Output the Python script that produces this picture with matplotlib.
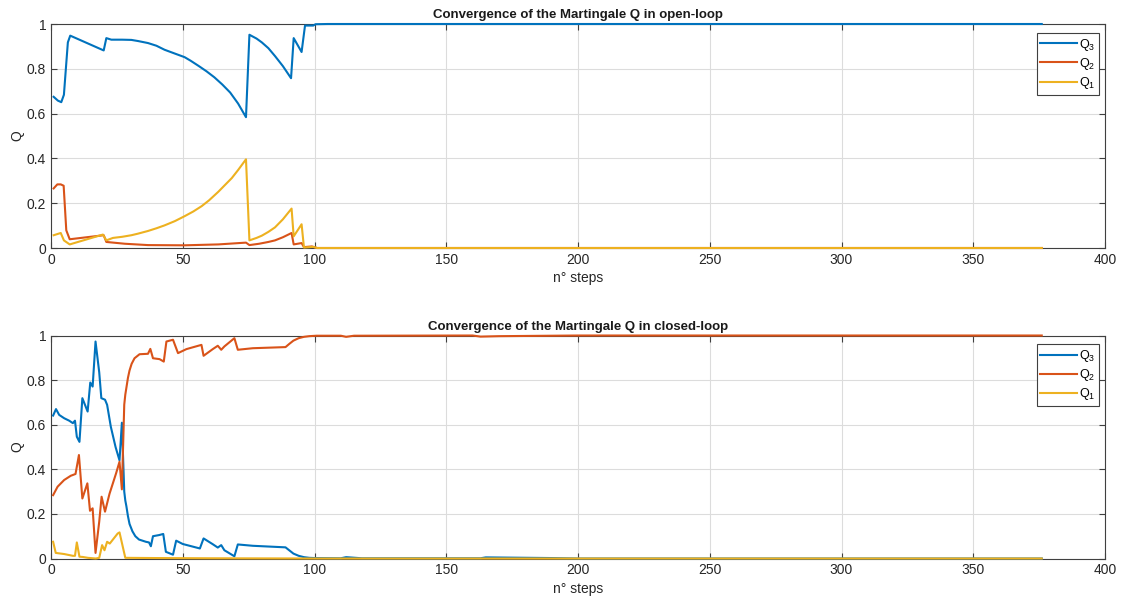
import matplotlib
matplotlib.use("Agg")
import matplotlib.pyplot as plt

plt.rcParams['font.family'] = ['Liberation Sans', 'DejaVu Sans']
plt.rcParams['mathtext.default'] = 'regular'

# ---------------- data: open-loop ----------------
ol_q3_x = [1, 2.6, 3.9, 4.9, 5.8, 6.4, 7.3, 20, 21, 22.9, 27, 30.5, 33, 36.8, 40, 43.1, 47,
           50.7, 53, 56, 59, 62, 65, 68, 71, 74, 75.3, 78, 80, 82.5, 85, 88, 91.1, 92.1, 95.1,
           96.4, 99.5, 100.4, 105, 376]
ol_q3_y = [0.675, 0.658, 0.651, 0.684, 0.825, 0.918, 0.948, 0.882, 0.937, 0.93, 0.93, 0.929,
           0.924, 0.915, 0.903, 0.885, 0.868, 0.852, 0.836, 0.813, 0.789, 0.762, 0.73, 0.694,
           0.645, 0.584, 0.952, 0.935, 0.918, 0.892, 0.857, 0.812, 0.758, 0.937, 0.875, 0.993,
           0.993, 0.999, 1.0, 1.0]

ol_q2_x = [1, 2.4, 3.7, 4.8, 5.8, 7.1, 20, 21, 28, 36.8, 50.7, 63.5, 74, 75.3, 79, 82.5, 85,
           88, 91.3, 92.1, 95.1, 96, 99, 101, 376]
ol_q2_y = [0.266, 0.284, 0.284, 0.278, 0.079, 0.039, 0.057, 0.027, 0.019, 0.013, 0.012, 0.016,
           0.024, 0.013, 0.019, 0.027, 0.034, 0.048, 0.067, 0.016, 0.022, 0.004, 0.007, 0.0, 0.0]

ol_q1_x = [1, 3.7, 4.9, 7.1, 19.7, 21, 23.5, 27, 30.5, 33, 36.8, 40, 43.1, 47, 50.7, 54, 57.2,
           60, 63.5, 66, 68.6, 71, 74, 75.3, 78, 80, 82.5, 85, 88, 91.3, 92.1, 95.1, 96, 99.5,
           101, 376]
ol_q1_y = [0.057, 0.067, 0.034, 0.016, 0.06, 0.034, 0.045, 0.05, 0.057, 0.064, 0.076, 0.088,
           0.101, 0.12, 0.142, 0.163, 0.187, 0.213, 0.251, 0.281, 0.312, 0.348, 0.396, 0.034,
           0.045, 0.055, 0.072, 0.092, 0.128, 0.176, 0.052, 0.106, 0.002, 0.005, 0.0, 0.0]

# ---------------- data: closed-loop ----------------
cl_q3_x = [0.8, 1.9, 3.1, 5, 6.9, 8.3, 9.1, 9.8, 10.8, 11.9, 13.9, 14.9, 15.8, 16.9, 18.3,
           19.1, 20.5, 21.3, 22.7, 24.5, 26, 26.9, 27.8, 28.2, 28.6, 29.2, 29.8, 30.9, 32,
           33.4, 36, 37.2, 37.9, 38.7, 41, 42.6, 43.6, 46.3, 47.5, 50, 56.5, 57.9, 61.4, 63.3,
           64.6, 65.8, 69.6, 70.9, 76.6, 89, 90.5, 92, 94, 96, 98, 100, 110, 112, 118, 163,
           165, 190, 200, 376]
cl_q3_y = [0.641, 0.67, 0.644, 0.629, 0.618, 0.607, 0.618, 0.546, 0.523, 0.719, 0.659, 0.789,
           0.771, 0.973, 0.835, 0.719, 0.712, 0.689, 0.591, 0.5, 0.44, 0.609, 0.3, 0.26, 0.235,
           0.19, 0.155, 0.122, 0.1, 0.085, 0.075, 0.072, 0.055, 0.1, 0.105, 0.11, 0.03, 0.017,
           0.08, 0.065, 0.045, 0.09, 0.064, 0.049, 0.06, 0.037, 0.01, 0.063, 0.057, 0.05, 0.036,
           0.022, 0.012, 0.006, 0.003, 0.002, 0.001, 0.006, 0.001, 0.001, 0.005, 0.002, 0.0, 0.0]

cl_q2_x = [0.8, 2.5, 5, 7.5, 9.3, 10.6, 11.9, 13.8, 14.8, 15.8, 16.9, 18.3, 19.2, 20.5, 22.2,
           24.7, 26, 26.9, 27.8, 28.2, 28.6, 29.2, 29.8, 30.6, 31.7, 33.6, 36.8, 37.7, 38.7,
           41.2, 42.8, 43.8, 46.3, 48.2, 51.4, 57.1, 57.9, 61.4, 63.3, 64.6, 65.8, 69.6, 70.9,
           76.6, 89, 90.5, 92, 94, 96, 98, 100.7, 110, 112, 115, 160, 163, 170, 190, 200, 376]
cl_q2_y = [0.284, 0.322, 0.352, 0.371, 0.379, 0.464, 0.269, 0.337, 0.214, 0.225, 0.025, 0.165,
           0.277, 0.21, 0.29, 0.382, 0.434, 0.31, 0.69, 0.735, 0.765, 0.81, 0.843, 0.873, 0.898,
           0.916, 0.918, 0.94, 0.898, 0.894, 0.883, 0.973, 0.981, 0.921, 0.939, 0.958, 0.909,
           0.939, 0.954, 0.936, 0.951, 0.988, 0.936, 0.943, 0.948, 0.963, 0.977, 0.988, 0.994,
           0.997, 0.999, 0.999, 0.994, 0.999, 1.0, 0.995, 0.997, 0.999, 1.0, 1.0]

cl_q1_x = [0.8, 1.8, 5, 8.3, 9.1, 9.8, 10.8, 12, 14, 17, 18.3, 19.4, 20.3, 21.3, 22.3, 25.3,
           26, 28.2, 40, 60, 100, 376]
cl_q1_y = [0.075, 0.025, 0.02, 0.012, 0.012, 0.072, 0.008, 0.007, 0.003, 0.0, 0.003, 0.06,
           0.037, 0.075, 0.067, 0.112, 0.117, 0.003, 0.002, 0.001, 0.0, 0.0]

labels = ['Q$_3$', 'Q$_2$', 'Q$_1$']
colors = ['#0072BD', '#D95319', '#EDB120']
titles = ['Convergence of the Martingale Q in open-loop',
          'Convergence of the Martingale Q in closed-loop']
xticks = [0, 50, 100, 150, 200, 250, 300, 350, 400]
yticks = [0, 0.2, 0.4, 0.6, 0.8, 1]
yticklabels = ['0', '0.2', '0.4', '0.6', '0.8', '1']

W, H = 1129, 602
fig = plt.figure(figsize=(W / 100, H / 100), dpi=100)
ax1 = fig.add_axes([51 / W, 1 - 248 / H, (1105 - 51) / W, (248 - 24) / H])
ax2 = fig.add_axes([51 / W, 1 - 558.5 / H, (1105 - 51) / W, (558.5 - 335.5) / H])

panels = [
    (ax1, [(ol_q3_x, ol_q3_y), (ol_q2_x, ol_q2_y), (ol_q1_x, ol_q1_y)], titles[0]),
    (ax2, [(cl_q3_x, cl_q3_y), (cl_q2_x, cl_q2_y), (cl_q1_x, cl_q1_y)], titles[1]),
]

for ax, series, title in panels:
    for (xs, ys), lab, c in zip(series, labels, colors):
        ax.plot(xs, ys, color=c, lw=1.5, label=lab, clip_on=False, zorder=3,
                solid_joinstyle='round')
    ax.set_xlim(0, 400)
    ax.set_ylim(0, 1)
    ax.set_xticks(xticks)
    ax.set_yticks(yticks)
    ax.set_yticklabels(yticklabels)
    ax.grid(True, color='#dcdcdc', lw=0.8)
    ax.set_axisbelow(True)
    ax.tick_params(direction='in', top=True, right=True, length=4, width=0.8,
                   colors='#404040', labelsize=10, labelcolor='#262626')
    for sp in ax.spines.values():
        sp.set_color('#404040')
        sp.set_linewidth(0.8)
        sp.set_zorder(2.5)
    ax.set_title(title, fontsize=9.5, fontweight='bold', color='#1a1a1a', pad=4)
    ax.set_xlabel('n° steps', fontsize=10, color='#262626', labelpad=3)
    ax.set_ylabel('Q', fontsize=10, color='#262626', labelpad=2)
    leg = ax.legend(loc='upper right', bbox_to_anchor=(0.9945, 0.96), fontsize=9,
                    fancybox=False, framealpha=1, edgecolor='#404040',
                    handlelength=2.9, handletextpad=0.2, borderpad=0.3,
                    labelspacing=0.25, borderaxespad=0)
    leg.get_frame().set_linewidth(0.8)
    leg.set_zorder(5)

fig.savefig('out.png', dpi=100)
